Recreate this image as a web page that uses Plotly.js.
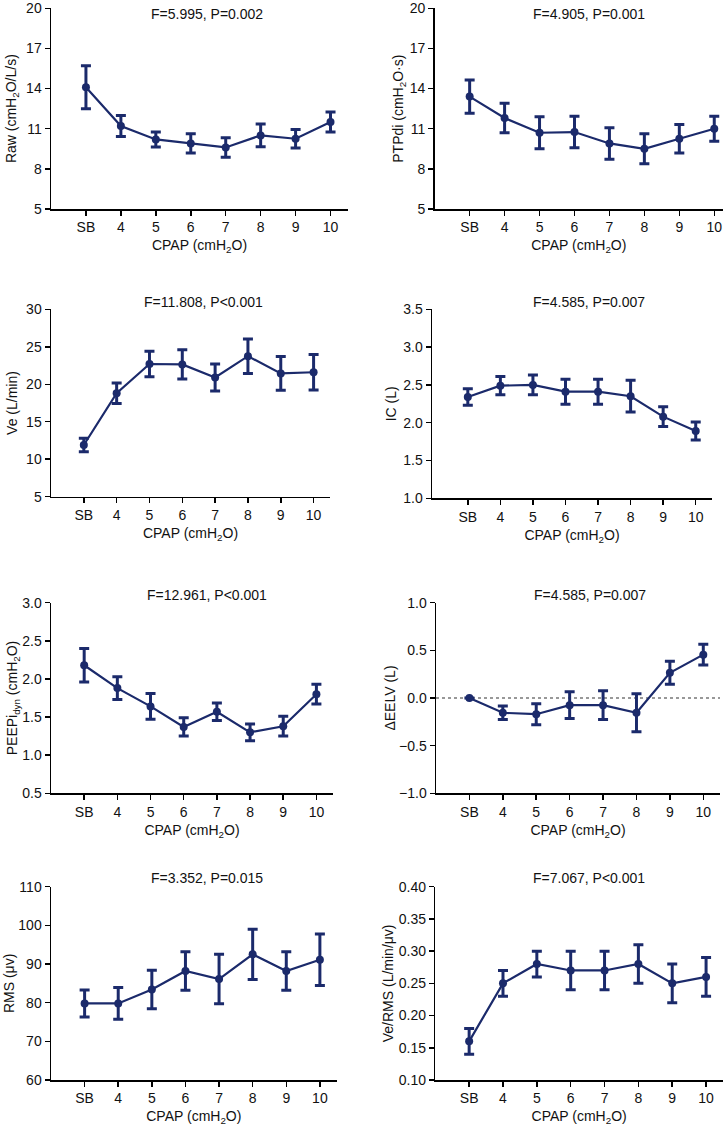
<!DOCTYPE html>
<html>
<head>
<meta charset="utf-8">
<script src="https://cdn.plot.ly/plotly-3.0.1.min.js"></script>
<style>
  html, body { margin: 0; padding: 0; background: #fff; }
  #chart { width: 723px; height: 1127px; }
</style>
</head>
<body>
<div id="chart"></div>
<script>
// values: mean and error (half bar) per CPAP level
const cpapLabels = ["SB", "4", "5", "6", "7", "8", "9", "10"];

const rawMean = [14.1, 11.2, 10.2, 9.9, 9.6, 10.5, 10.25, 11.5];
const rawErr = [1.6, 0.78, 0.56, 0.72, 0.73, 0.85, 0.7, 0.75];

const ptpMean = [13.4, 11.8, 10.7, 10.75, 9.9, 9.5, 10.25, 11.0];
const ptpErr = [1.25, 1.1, 1.2, 1.18, 1.18, 1.12, 1.06, 0.94];

const veMean = [11.9, 18.8, 22.7, 22.65, 20.9, 23.75, 21.45, 21.6];
const veErr = [0.9, 1.37, 1.7, 1.95, 1.8, 2.3, 2.24, 2.36];

const icMean = [2.34, 2.49, 2.5, 2.41, 2.41, 2.35, 2.08, 1.89];
const icErr = [0.11, 0.12, 0.13, 0.165, 0.165, 0.21, 0.13, 0.12];

const peepMean = [2.18, 1.88, 1.64, 1.37, 1.57, 1.3, 1.38, 1.8];
const peepErr = [0.22, 0.15, 0.17, 0.12, 0.115, 0.11, 0.13, 0.13];

const eelvMean = [0.0, -0.155, -0.17, -0.075, -0.075, -0.155, 0.265, 0.455];
const eelvErr = [0, 0.07, 0.11, 0.14, 0.15, 0.2, 0.12, 0.11];

const rmsMean = [79.8, 79.8, 83.4, 88.2, 86.1, 92.5, 88.2, 91.1];
const rmsErr = [3.5, 4.1, 5.0, 5.0, 6.4, 6.5, 5.0, 6.65];

const ratioMean = [0.16, 0.25, 0.28, 0.27, 0.27, 0.28, 0.25, 0.26];
const ratioErr = [0.02, 0.02, 0.02, 0.03, 0.03, 0.03, 0.03, 0.03];

const statText = [
  "F=5.995, P=0.002", "F=4.905, P=0.001",
  "F=11.808, P<0.001", "F=4.585, P=0.007",
  "F=12.961, P<0.001", "F=4.585, P=0.007",
  "F=3.352, P=0.015", "F=7.067, P<0.001"
];

const navy = "#1b2a6b";
const W = 723, H = 1127;
const font = { family: "Liberation Sans, Arial, sans-serif", size: 14, color: "#111" };

// panel boxes in pixels: [left, right, top, bottom]
const panels = [
  { mean: rawMean, err: rawErr, ytitle: "Raw (cmH<sub>2</sub>O/L/s)", yr: [5, 20], dtick: 3, fmt: "",
    box: [51, 348, 8.3, 209], xr: [-1, 7.5], ys: 6, tx: 207, ty: 14 },
  { mean: ptpMean, err: ptpErr, ytitle: "PTPdi (cmH<sub>2</sub>O·s)", yr: [5, 20], dtick: 3, fmt: "",
    box: [434.7, 723, 8.3, 209], xr: [-1, 7.25], ys: 3, tx: 589, ty: 14 },
  { mean: veMean, err: veErr, ytitle: "Ve (L/min)", yr: [5, 30], dtick: 5, fmt: "",
    box: [51, 330, 309.3, 496.7], xr: [-1, 7.5], ys: 5, tx: 203, ty: 302 },
  { mean: icMean, err: icErr, ytitle: "IC (L)", yr: [1, 3.5], dtick: 0.5, fmt: ".1f",
    box: [432, 712, 309.3, 498.3], xr: [-1.1, 7.5], ys: 3, tx: 589, ty: 302 },
  { mean: peepMean, err: peepErr, ytitle: "PEEPi<sub>dyn</sub> (cmH<sub>2</sub>O)", yr: [0.5, 3], dtick: 0.5, fmt: ".1f",
    box: [51, 333, 602.7, 793.3], xr: [-1, 7.5], ys: 1, tx: 207, ty: 595 },
  { mean: eelvMean, err: eelvErr, ytitle: "ΔEELV (L)", yr: [-1, 1], dtick: 0.5, fmt: ".1f",
    box: [436, 720, 602.7, 793.3], xr: [-1, 7.5], ys: 0, tx: 590, ty: 595 },
  { mean: rmsMean, err: rmsErr, ytitle: "RMS (μv)", yr: [60, 110], dtick: 10, fmt: "",
    box: [51, 336.7, 886.7, 1080], xr: [-1, 7.5], ys: 0, tx: 207, ty: 878 },
  { mean: ratioMean, err: ratioErr, ytitle: "Ve/RMS (L/min/μv)", yr: [0.1, 0.4], dtick: 0.05, fmt: ".2f",
    box: [435.3, 723, 886.7, 1080], xr: [-1, 7.5], ys: 2, tx: 589, ty: 878 }
];

const xIdx = cpapLabels.map((_, i) => i);

const data = [];
const layout = {
  width: W,
  height: H,
  margin: { l: 0, r: 0, t: 0, b: 0 },
  paper_bgcolor: "#fff",
  plot_bgcolor: "#fff",
  showlegend: false,
  font: font,
  annotations: [],
  shapes: []
};

panels.forEach((p, i) => {
  const n = i === 0 ? "" : String(i + 1);
  data.push({
    x: xIdx,
    y: p.mean,
    xaxis: "x" + n,
    yaxis: "y" + n,
    type: "scatter",
    mode: "lines+markers",
    line: { color: navy, width: 2.2 },
    marker: { color: navy, size: 8 },
    error_y: { type: "data", array: p.err, visible: true, color: navy, thickness: 3, width: 5 },
    hoverinfo: "x+y"
  });

  const axisBase = {
    showline: true,
    linecolor: "#000",
    linewidth: 1.5,
    ticks: "outside",
    ticklen: 5,
    tickwidth: 1.5,
    tickcolor: "#000",
    showgrid: false,
    zeroline: false,
    tickfont: font
  };

  layout["xaxis" + n] = Object.assign({}, axisBase, {
    domain: [p.box[0] / W, p.box[1] / W],
    anchor: "y" + n,
    range: p.xr,
    tickmode: "array",
    tickvals: xIdx,
    ticktext: cpapLabels,
    title: { text: "CPAP (cmH<sub>2</sub>O)", font: font, standoff: 6 }
  });

  layout["yaxis" + n] = Object.assign({}, axisBase, {
    domain: [1 - p.box[3] / H, 1 - p.box[2] / H],
    anchor: "x" + n,
    range: p.yr,
    tick0: p.yr[0],
    dtick: p.dtick,
    tickformat: p.fmt,
    title: { text: p.ytitle, font: font, standoff: p.ys }
  });

  layout.annotations.push({
    xref: "paper", yref: "paper",
    x: p.tx / W, y: 1 - p.ty / H,
    xanchor: "center", yanchor: "middle",
    text: statText[i],
    showarrow: false,
    font: font
  });
});

// dotted reference line at zero change in EELV
layout.shapes.push({
  type: "line",
  xref: "x6 domain", yref: "y6",
  x0: 0, x1: 1, y0: 0, y1: 0,
  line: { color: "#333", width: 1.2, dash: "dot" },
  layer: "below"
});

Plotly.newPlot("chart", data, layout, { staticPlot: true });
</script>
</body>
</html>
